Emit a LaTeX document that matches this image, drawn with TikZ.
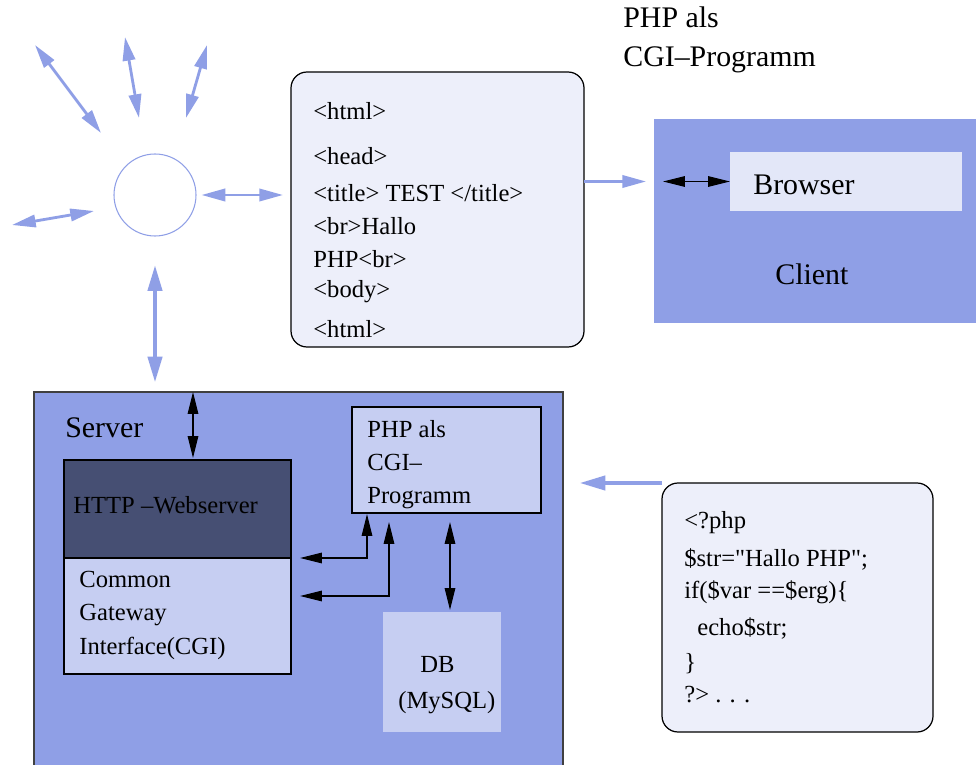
\documentclass[tikz,border=0pt]{standalone}
\usepackage{fontspec}
\setmainfont{Liberation Serif}
\newfontfamily\codefont{Liberation Serif}[Ligatures=TeXOff]
\usetikzlibrary{arrows.meta,fit,calc,positioning}
\definecolor{srvblue}{RGB}{143,159,230}
\definecolor{paleblue}{RGB}{198,206,242}
\definecolor{mistblue}{RGB}{227,231,248}
\definecolor{noteblue}{RGB}{237,239,250}
\definecolor{navyslate}{RGB}{70,79,115}
\tikzset{
  txt/.style={anchor=base west,inner sep=0pt,font=\fontsize{14}{17}\selectfont},
  big/.style={anchor=base west,inner sep=0pt,font=\fontsize{17}{20}\selectfont},
  flat/.style={inner sep=0pt,outer sep=0pt},
  note/.style={flat,draw,fill=noteblue,line width=0.7pt,rounded corners=3.2mm},
  bluarr/.style={draw=srvblue,line width=1.6pt,>={Triangle[length=13.5pt,width=7pt]}},
  bigarr/.style={draw=srvblue,line width=2.8pt,>={Triangle[length=15pt,width=7.8pt]}},
  blkarr/.style={draw=black,line width=0.7pt,>={Triangle[length=12.5pt,width=6pt]}}
}
\begin{document}
\begin{tikzpicture}[x=0.2mm,y=-0.2mm]
\useasboundingbox (0,0) rectangle (976,765);

% net with its links
\node[circle,draw=srvblue,line width=0.6pt,minimum size=16.4mm,inner sep=0pt] (net) at (155,195) {};
\coordinate (a1) at (35,45);  \coordinate (b1) at (101,133);
\coordinate (a2) at (125,37); \coordinate (b2) at (139,118);
\coordinate (a3) at (207,45); \coordinate (b3) at (186,118);
\coordinate (a4) at (12,225); \coordinate (b4) at (94,211);
\foreach \i in {1,...,4}
  \draw[bluarr,<->] (a\i) -- (b\i);

% html page
\node[note,fit={(291,72) (584,347)}] (html) {};
\foreach \y/\t [count=\k] in {120/{<html>},165/{<head>},202/{<title> TEST </title>},
    235/{<br>Hallo},268/{PHP<br>},298/{<body>},337/{<html>}}
  \node[txt] (h\k) at (313,\y) {\t};

\node[big] (cgititle) at (623,28) {PHP als};
\node[big] (cgititle2) at (623,67) {CGI--Programm};

% client
\node[flat,fill=srvblue,fit={(654,119) (980,323)}] (client) {};
\node[flat,fill=mistblue,fit={(730,152) (962,211)}] (browser) {};
\node[big] (browserlbl) at (753,195) {Browser};
\node[big] (clientlbl) at (775,285) {Client};

% server
\node[flat,fill=srvblue,draw=black!75,line width=0.6pt,fit={(34,392) (563,790)}] (server) {};
\node[big] (serverlbl) at (65,437) {Server};
\node[flat,fill=navyslate,draw,line width=0.6pt,fit={(64,460) (291,558)}] (http) {};
\node[flat,fill=paleblue,draw,line width=0.6pt,fit={(64,558) (291,674)}] (cgi) {};
\node[flat,fill=paleblue,draw,line width=0.6pt,fit={(352,407) (541,513)}] (php) {};
\node[flat,fill=paleblue,fit={(383,612) (501,732)}] (db) {};
\node[txt] (httplbl) at (73,513) {HTTP --Webserver};
\node[txt] (cgi1) at (79,587) {Common};
\node[txt] (cgi2) at (79,620) {Gateway};
\node[txt] (cgi3) at (79,654) {Interface(CGI)};
\node[txt] (php1) at (367,437) {PHP als};
\node[txt] (php2) at (367,470) {CGI--};
\node[txt] (php3) at (367,503) {Programm};
\node[txt] (db1) at (420,672) {DB};
\node[txt] (db2) at (398,708) {(MySQL)};

% php source
\node[note,fit={(662,483) (933,732)}] (code) {};
\foreach \x/\y/\t [count=\k] in {684/528/{<?php},684/566/{\codefont\$str="Hallo PHP";},
    684/598/{if(\$var ==\$erg)\{},697/635/{echo\$str;},684/670/{\}},684/702/{?> . . .}}
  \node[txt] (c\k) at (\x,\y) {\t};

% links
\draw[bluarr,<->] ($(net.east)+(5,0)$) -- ($(html.west |- net.east)+(-8,0)$);
\draw[bigarr,<->] ($(net.south)+(0,28)$) -- ($(net.south |- server.north)+(0,-9)$);
\draw[bluarr,->] (html.east |- browser.west) -- ($(client.west |- browser.west)+(-8,0)$);
\draw[blkarr,<->] (browser.west) -- ($(client.west |- browser.west)+(9,0)$);
\draw[bigarr,->] (code.north west) -- ($(server.east |- code.north west)+(16,0)$);
\coordinate (wsx) at (193,0);
\draw[blkarr,<->] (server.north -| wsx) -- ($(http.north -| wsx)+(0,-2)$);
\draw[blkarr,<->] ($(php.south west)+(15,1)$) |- ($(http.south east)+(9,0)$);
\draw[blkarr,<->] ($(php.south west)+(37,9)$) |- ($(cgi.east)+(9,-20)$);
\coordinate (phpdb) at ($(php.south west)+(98,9)$);
\draw[blkarr,<->] (phpdb) -- ($(phpdb |- db.north)+(0,-2)$);
\end{tikzpicture}
\end{document}
